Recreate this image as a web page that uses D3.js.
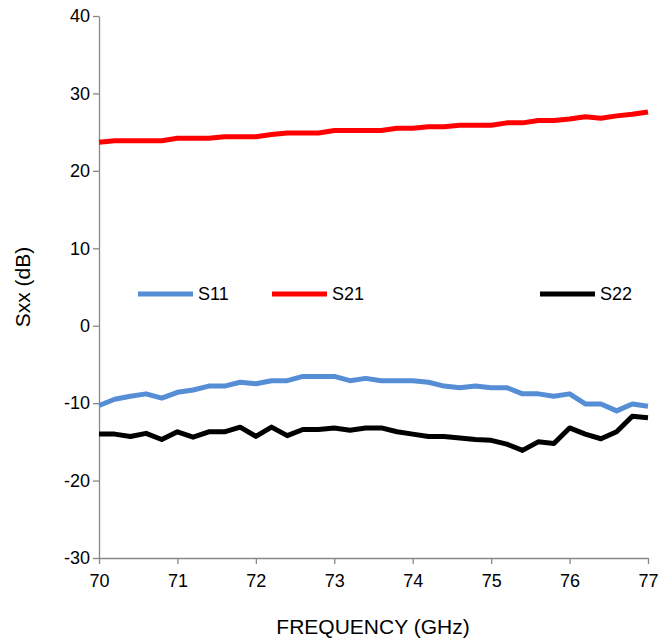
<!DOCTYPE html><html><head><meta charset="utf-8"><script src="https://cdn.jsdelivr.net/npm/d3@7"></script>
<style>body{margin:0;background:#fff}text{font-family:"Liberation Sans",Arial,sans-serif;font-size:18px;fill:#000}</style></head><body><svg width="662" height="641"></svg><script>
const freq=d3.range(36).map(i=>70+i*0.2);
const s11=[-10.3,-9.5,-9.1,-8.8,-9.35,-8.6,-8.3,-7.8,-7.8,-7.3,-7.5,-7.1,-7.1,-6.55,-6.55,-6.55,-7.1,-6.8,-7.1,-7.1,-7.1,-7.3,-7.8,-8.0,-7.8,-8.0,-8.0,-8.8,-8.8,-9.1,-8.8,-10.1,-10.1,-11.0,-10.1,-10.4];
const s21=[23.7,23.9,23.9,23.9,23.9,24.2,24.2,24.2,24.4,24.4,24.4,24.7,24.9,24.9,24.9,25.2,25.2,25.2,25.2,25.5,25.5,25.7,25.7,25.9,25.9,25.9,26.2,26.2,26.5,26.5,26.7,27.0,26.8,27.1,27.3,27.6];
const s22=[-14.0,-14.0,-14.3,-13.9,-14.7,-13.7,-14.4,-13.7,-13.7,-13.1,-14.3,-13.1,-14.2,-13.4,-13.4,-13.2,-13.5,-13.2,-13.2,-13.7,-14.0,-14.3,-14.3,-14.5,-14.7,-14.8,-15.3,-16.1,-15.0,-15.2,-13.2,-14.0,-14.6,-13.7,-11.7,-11.9];
const xTicks=[70,71,72,73,74,75,76,77];
const yTicks=[-30,-20,-10,0,10,20,30,40];
const series=[{name:"S11",v:s11,c:"#558ed5",lx:138},{name:"S21",v:s21,c:"#ff0000",lx:272},{name:"S22",v:s22,c:"#000000",lx:540}];
const svg=d3.select("svg");
const x=d3.scaleLinear().domain([70,77]).range([99,648]);
const y=d3.scaleLinear().domain([-30,40]).range([558,16]);
const fmt=d=>String(d).replace("\u2212","-");
const xa=svg.append("g").attr("transform","translate(0,558)").call(d3.axisBottom(x).tickValues(xTicks).tickFormat(fmt).tickSize(6).tickSizeOuter(0));
const ya=svg.append("g").attr("transform","translate(99,0)").call(d3.axisLeft(y).tickValues(yTicks).tickFormat(fmt).tickSize(6).tickSizeOuter(0));
[xa,ya].forEach(a=>{a.selectAll("path,line").attr("stroke","#888").attr("stroke-width",1.3);a.selectAll("text").style("font-size","18px").attr("font-family","Liberation Sans, Arial")});
xa.selectAll("text").attr("dy","1.1em");
const line=d3.line().x((d,i)=>x(freq[i])).y(d=>y(d));
series.forEach(s=>{
 svg.append("path").datum(s.v).attr("d",line).attr("fill","none").attr("stroke",s.c).attr("stroke-width",5).attr("stroke-linejoin","round");
 svg.append("line").attr("x1",s.lx).attr("x2",s.lx+55).attr("y1",294).attr("y2",294).attr("stroke",s.c).attr("stroke-width",5);
 svg.append("text").attr("x",s.lx+60).attr("y",300).text(s.name);
});
svg.append("text").attr("x",373).attr("y",634).attr("text-anchor","middle").style("font-size","21px").text("FREQUENCY (GHz)");
svg.append("text").attr("transform","translate(30,287) rotate(-90)").attr("text-anchor","middle").style("font-size","21px").text("Sxx (dB)");
</script></body></html>
